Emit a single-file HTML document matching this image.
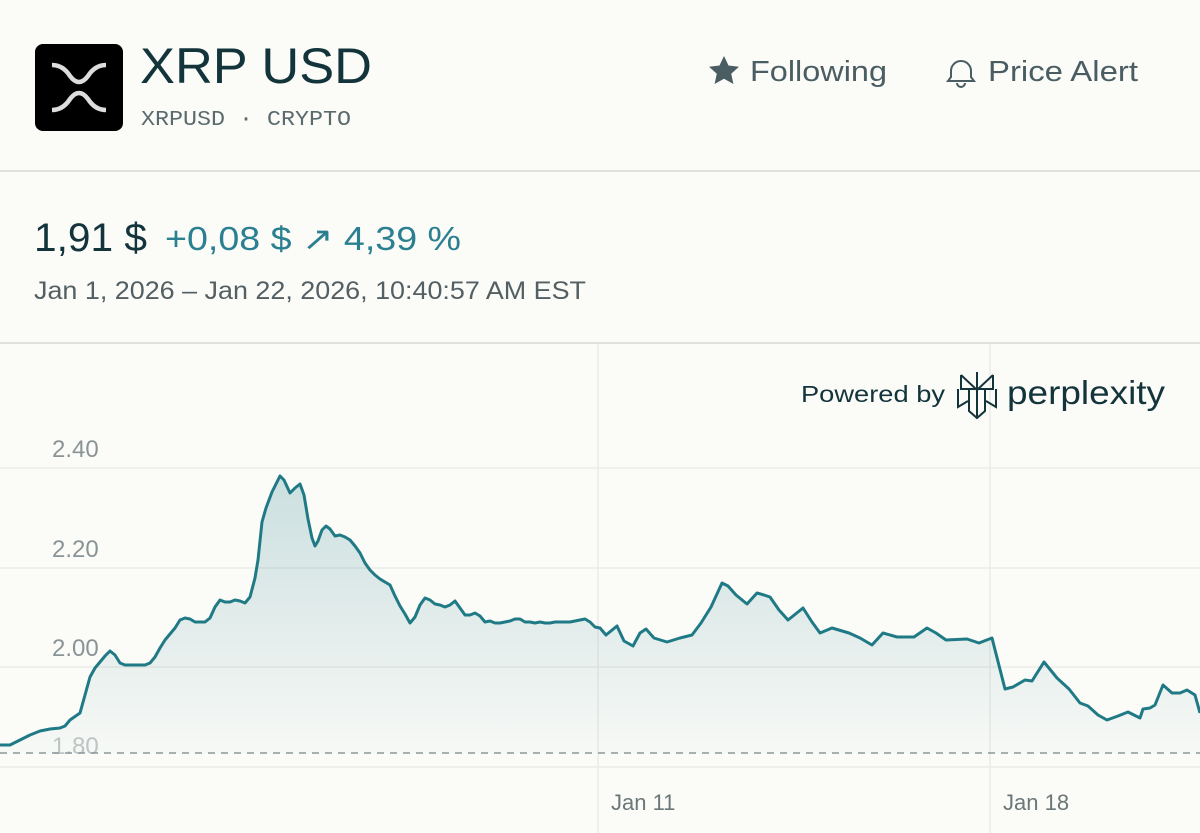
<!DOCTYPE html>
<html><head><meta charset="utf-8"><style>
html,body{margin:0;padding:0;background:#fbfbf8;width:1200px;height:833px;overflow:hidden}
svg{display:block}
text{font-family:"Liberation Sans",sans-serif}
</style></head><body>
<svg width="1200" height="833" viewBox="0 0 1200 833" xmlns="http://www.w3.org/2000/svg">
<defs>
<linearGradient id="fillg" gradientUnits="userSpaceOnUse" x1="0" y1="470" x2="0" y2="753">
<stop offset="0" stop-color="#1f7a86" stop-opacity="0.22"/>
<stop offset="1" stop-color="#1f7a86" stop-opacity="0.02"/>
</linearGradient>
</defs>
<rect width="1200" height="833" fill="#fbfbf8"/>
<rect x="35" y="44" width="88" height="87" rx="8" fill="#000"/>
<path d="M52 65 Q63 65 70 76 Q79 88 88 76 Q95 65 106 65" fill="none" stroke="#ddd" stroke-width="4.5"/>
<path d="M52 110 Q63 110 70 99 Q79 87 88 99 Q95 110 106 110" fill="none" stroke="#ddd" stroke-width="4.5"/>
<text x="140" y="83" font-size="50" fill="#13343b" textLength="232" lengthAdjust="spacingAndGlyphs">XRP USD</text>
<text x="141" y="125" font-size="21" fill="#5a6a6d" style="font-family:'Liberation Mono',monospace" textLength="210" lengthAdjust="spacingAndGlyphs">XRPUSD · CRYPTO</text>
<path d="M724 56 l4.5 9.5 10.5 1.2 -7.8 7 2.2 10.3 -9.4-5.3 -9.4 5.3 2.2-10.3 -7.8-7 10.5-1.2z" fill="#4a5d62"/>
<text x="750" y="81" font-size="29" fill="#4a5d62" textLength="137" lengthAdjust="spacingAndGlyphs">Following</text>
<path d="M951 77 v-6 a10 10 0 0 1 20 0 v6 l3 4 h-26z M957 83 a4 4 0 0 0 8 0" fill="none" stroke="#4a5d62" stroke-width="2"/>
<text x="988" y="81" font-size="29" fill="#4a5d62" textLength="150" lengthAdjust="spacingAndGlyphs">Price Alert</text>
<line x1="0" y1="171" x2="1200" y2="171" stroke="#e0e0dc" stroke-width="2"/>
<text x="34" y="251" font-size="40" fill="#13343b" textLength="113" lengthAdjust="spacingAndGlyphs">1,91 $</text>
<text x="165" y="250" font-size="33" fill="#2a8090" textLength="296" lengthAdjust="spacingAndGlyphs">+0,08 $ ↗ 4,39 %</text>
<text x="34" y="299" font-size="25" fill="#535f62" textLength="552" lengthAdjust="spacingAndGlyphs">Jan 1, 2026 – Jan 22, 2026, 10:40:57 AM EST</text>
<line x1="0" y1="343" x2="1200" y2="343" stroke="#e0e0dc" stroke-width="2"/>
<g stroke="#ebebe7" stroke-width="1.5">
<line x1="0" y1="468" x2="1200" y2="468"/>
<line x1="0" y1="568" x2="1200" y2="568"/>
<line x1="0" y1="667" x2="1200" y2="667"/>
<line x1="0" y1="767" x2="1200" y2="767"/>
<line x1="598" y1="344" x2="598" y2="833"/>
<line x1="990" y1="344" x2="990" y2="833"/>
</g>
<g font-size="24" fill="#8a9496">
<text x="52" y="457">2.40</text>
<text x="52" y="557">2.20</text>
<text x="52" y="656">2.00</text>
<text x="52" y="754" fill="#c0c6c6">1.80</text>
</g>
<text x="611" y="810" font-size="22" fill="#6b7779">Jan 11</text>
<text x="1003" y="810" font-size="22" fill="#6b7779">Jan 18</text>
<line x1="0" y1="753" x2="1200" y2="753" stroke="#8c9899" stroke-width="1.5" stroke-dasharray="7,6"/>
<g>
<path fill="url(#fillg)" stroke="none" d="M0 745 L10 745 L20 740 L30 735 L40 731 L50 729 L60 728 L65 726 L70 720 L80 713 L85 695 L90 677 L95 668 L100 662 L105 656 L110 651 L115 655 L120 663 L125 665 L135 665 L145 665 L150 663 L155 657 L160 648 L165 640 L170 634 L175 628 L180 620 L185 618 L190 619 L195 622 L200 622 L205 622 L210 618 L215 607 L220 600 L225 602 L230 602 L235 600 L240 601 L245 603 L250 597 L255 578 L258 560 L262 522 L266 508 L272 492 L280 476 L284 480 L290 493 L295 488 L300 484 L304 495 L308 519 L312 538 L315 546 L318 541 L322 530 L326 526 L330 529 L335 536 L340 535 L345 537 L350 540 L355 546 L360 553 L365 563 L370 570 L375 575 L380 579 L385 582 L390 585 L395 596 L400 606 L405 614 L410 623 L415 617 L420 605 L425 598 L430 600 L435 604 L440 605 L445 607 L450 605 L455 601 L460 608 L465 615 L470 615 L475 613 L480 616 L485 622 L490 621 L495 623 L500 623 L505 622 L510 621 L515 619 L520 619 L525 622 L530 622 L535 623 L540 622 L545 623 L550 623 L555 622 L570 622 L580 620 L585 619 L590 622 L595 627 L600 628 L606 635 L617 626 L624 641 L633 646 L640 633 L646 629 L654 638 L667 642 L680 638 L692 635 L701 623 L711 607 L722 583 L728 586 L736 595 L747 604 L757 593 L764 595 L770 597 L779 610 L788 620 L803 608 L812 622 L820 633 L832 628 L849 633 L860 638 L872 645 L883 633 L897 637 L914 637 L927 628 L936 633 L946 640 L967 639 L979 643 L992 638 L1005 689 L1013 687 L1025 680 L1032 681 L1044 662 L1057 678 L1069 689 L1080 703 L1088 706 L1098 715 L1107 720 L1118 716 L1128 712 L1134 715 L1140 718 L1143 709 L1150 708 L1155 705 L1163 685 L1172 693 L1180 693 L1187 690 L1195 695 L1200 713 L1200 753 L0 753 Z"/>
<path fill="none" stroke="#1f7a86" stroke-width="3" stroke-linejoin="round" d="M0 745 L10 745 L20 740 L30 735 L40 731 L50 729 L60 728 L65 726 L70 720 L80 713 L85 695 L90 677 L95 668 L100 662 L105 656 L110 651 L115 655 L120 663 L125 665 L135 665 L145 665 L150 663 L155 657 L160 648 L165 640 L170 634 L175 628 L180 620 L185 618 L190 619 L195 622 L200 622 L205 622 L210 618 L215 607 L220 600 L225 602 L230 602 L235 600 L240 601 L245 603 L250 597 L255 578 L258 560 L262 522 L266 508 L272 492 L280 476 L284 480 L290 493 L295 488 L300 484 L304 495 L308 519 L312 538 L315 546 L318 541 L322 530 L326 526 L330 529 L335 536 L340 535 L345 537 L350 540 L355 546 L360 553 L365 563 L370 570 L375 575 L380 579 L385 582 L390 585 L395 596 L400 606 L405 614 L410 623 L415 617 L420 605 L425 598 L430 600 L435 604 L440 605 L445 607 L450 605 L455 601 L460 608 L465 615 L470 615 L475 613 L480 616 L485 622 L490 621 L495 623 L500 623 L505 622 L510 621 L515 619 L520 619 L525 622 L530 622 L535 623 L540 622 L545 623 L550 623 L555 622 L570 622 L580 620 L585 619 L590 622 L595 627 L600 628 L606 635 L617 626 L624 641 L633 646 L640 633 L646 629 L654 638 L667 642 L680 638 L692 635 L701 623 L711 607 L722 583 L728 586 L736 595 L747 604 L757 593 L764 595 L770 597 L779 610 L788 620 L803 608 L812 622 L820 633 L832 628 L849 633 L860 638 L872 645 L883 633 L897 637 L914 637 L927 628 L936 633 L946 640 L967 639 L979 643 L992 638 L1005 689 L1013 687 L1025 680 L1032 681 L1044 662 L1057 678 L1069 689 L1080 703 L1088 706 L1098 715 L1107 720 L1118 716 L1128 712 L1134 715 L1140 718 L1143 709 L1150 708 L1155 705 L1163 685 L1172 693 L1180 693 L1187 690 L1195 695 L1200 713"/>
</g>
<text x="801" y="402" font-size="23" fill="#13343b" textLength="144" lengthAdjust="spacingAndGlyphs">Powered by</text>
<g stroke="#13343b" stroke-width="2" fill="none">
<line x1="977" y1="372" x2="977" y2="418"/>
<path d="M961 375 L977 390 L993 375 M961 375 v14 h32 v-14"/>
<path d="M958 389 v18 l10-6 M996 389 v18 l-10-6 M969 389 v22 l8 7 8-7 v-22"/>
</g>
<text x="1007" y="404" font-size="33" fill="#13343b" textLength="158" lengthAdjust="spacingAndGlyphs">perplexity</text>
</svg>
</body></html>
